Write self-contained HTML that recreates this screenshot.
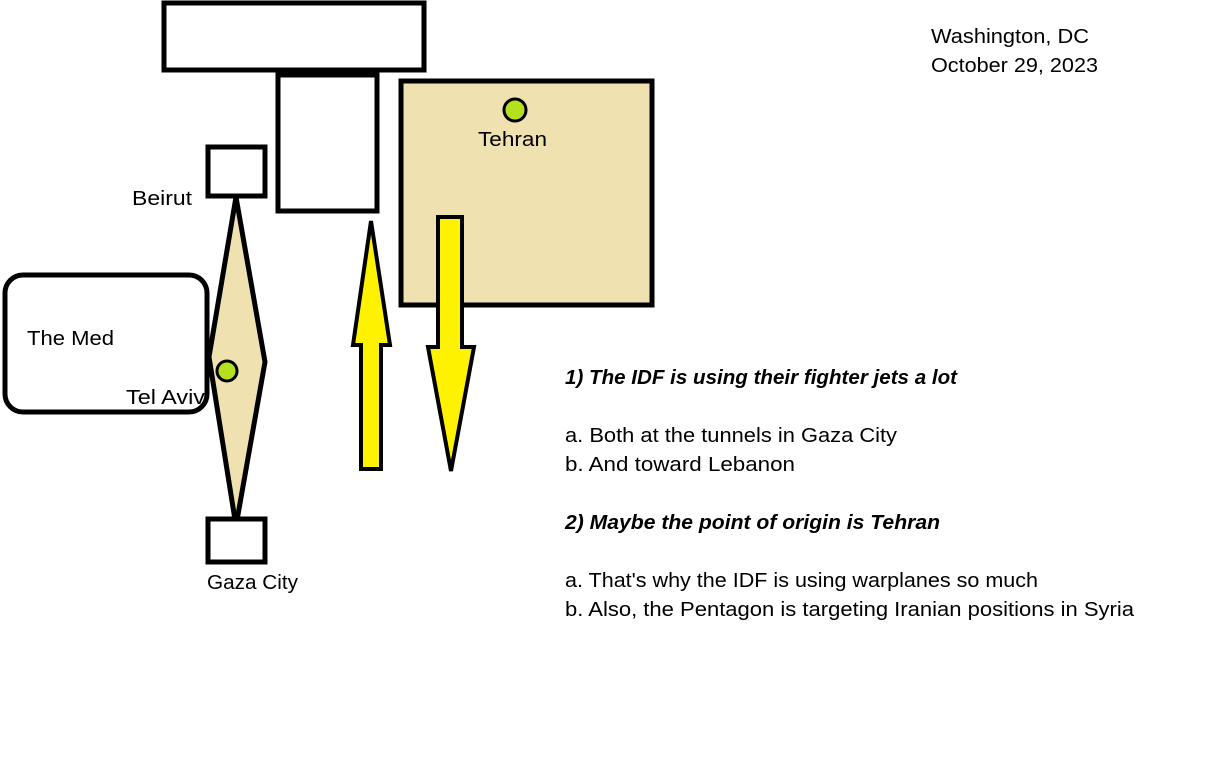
<!DOCTYPE html>
<html><head><style>
body{margin:0;width:1207px;height:760px;background:#fff;overflow:hidden}
svg{display:block}
text{font-family:"Liberation Sans","DejaVu Sans",sans-serif;font-size:20px;fill:#000}
</style></head><body>
<svg width="1207" height="760" xmlns="http://www.w3.org/2000/svg">
<g stroke="#000" stroke-width="5" stroke-linejoin="miter">
<rect x="164" y="3" width="260" height="67" fill="#fff"/>
<rect x="278" y="75" width="99" height="136" fill="#fff"/>
<rect x="401" y="81" width="251" height="224" fill="#efe1b0"/>
<circle cx="515" cy="110" r="11" fill="#b5e01d" stroke-width="3"/>
<rect x="208" y="147" width="57" height="49" fill="#fff"/>
<rect x="5" y="275" width="202" height="137" rx="18" fill="#fff"/>
<polygon points="236,197 265,362 236,526 209,357" fill="#efe1b0"/>
<circle cx="227" cy="371" r="10" fill="#b5e01d" stroke-width="3"/>
<rect x="208" y="519" width="57" height="43" fill="#fff"/>
<polygon points="371,221 390,345 381,345 381,469 361,469 361,345 353,345" fill="#fff200" stroke-width="4"/>
<polygon points="438,217 462,217 462,347 474,347 451,471 428,347 438,347" fill="#fff200" stroke-width="4"/>
</g>
<g lengthAdjust="spacingAndGlyphs">
<text x="931" y="43" textLength="158" lengthAdjust="spacingAndGlyphs">Washington, DC</text>
<text x="931" y="72" textLength="167" lengthAdjust="spacingAndGlyphs">October 29, 2023</text>
<text x="478" y="146" textLength="69" lengthAdjust="spacingAndGlyphs">Tehran</text>
<text x="132" y="205" textLength="60" lengthAdjust="spacingAndGlyphs">Beirut</text>
<text x="27" y="345" textLength="87" lengthAdjust="spacingAndGlyphs">The Med</text>
<text x="126" y="404" textLength="79" lengthAdjust="spacingAndGlyphs">Tel Aviv</text>
<text x="207" y="589" textLength="91" lengthAdjust="spacingAndGlyphs">Gaza City</text>
<text x="565" y="384" font-weight="bold" font-style="italic" textLength="392" lengthAdjust="spacingAndGlyphs">1) The IDF is using their fighter jets a lot</text>
<text x="565" y="442" textLength="332" lengthAdjust="spacingAndGlyphs">a. Both at the tunnels in Gaza City</text>
<text x="565" y="471" textLength="230" lengthAdjust="spacingAndGlyphs">b. And toward Lebanon</text>
<text x="565" y="529" font-weight="bold" font-style="italic" textLength="375" lengthAdjust="spacingAndGlyphs">2) Maybe the point of origin is Tehran</text>
<text x="565" y="587" textLength="473" lengthAdjust="spacingAndGlyphs">a. That's why the IDF is using warplanes so much</text>
<text x="565" y="616" textLength="569" lengthAdjust="spacingAndGlyphs">b. Also, the Pentagon is targeting Iranian positions in Syria</text>
</g>
</svg>
</body></html>
